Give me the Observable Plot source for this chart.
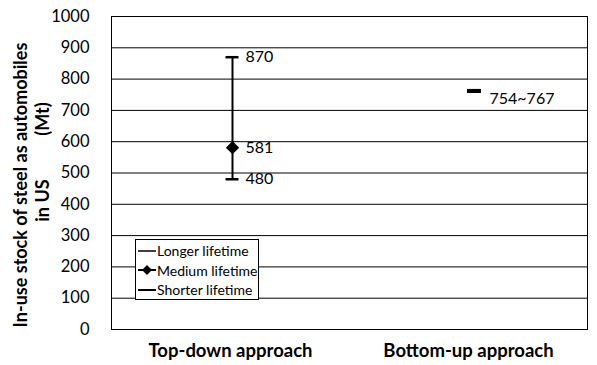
<!DOCTYPE html>
<html><head><meta charset="utf-8">
<script src="https://cdn.jsdelivr.net/npm/d3@7"></script>
<script src="https://cdn.jsdelivr.net/npm/@observablehq/plot@0.6"></script>
<style>
body{margin:0;background:#fff;font-family:Lato,"Open Sans",sans-serif;}
#wrap{position:relative;width:597px;height:365px;}
#legend{position:absolute;left:135px;top:239px;width:124px;height:61px;border:1px solid #000;background:#fff;font-size:14px;box-sizing:border-box;padding-top:1px;white-space:nowrap;}
#legend .row{display:flex;align-items:center;height:19.5px;white-space:nowrap;}
#legend svg{margin-left:2px;margin-right:1px;flex:none;}
.ytitle{position:absolute;font-weight:bold;font-size:18px;white-space:pre;transform:translate(-50%,-50%) rotate(-90deg);line-height:1;}
</style></head>
<body><div id="wrap"></div>
<script>
const categories = ["Top-down approach", "Bottom-up approach"];
const topDownLow = 480, topDownMid = 581, topDownHigh = 870;
const bottomUpLow = 754, bottomUpHigh = 767;
const yTicks = [0,100,200,300,400,500,600,700,800,900,1000];
const legendLabels = ["Longer lifetime", "Medium lifetime", "Shorter lifetime"];
const yTitle = ["In-use stock of steel as automobiles", "in US          (Mt)"];

const W = 597, H = 365, mL = 111, mR = 10, mT = 16, mB = 36;
const band = (W - mL - mR) / 2;
const capInset = (band - 13) / 2;
const barInset = (band - 14) / 2;

const errData = [{cat: categories[0], low: topDownLow, mid: topDownMid, high: topDownHigh}];
const rangeData = [{cat: categories[1], low: bottomUpLow, high: bottomUpHigh}];
const tdLabels = [topDownHigh, topDownMid, topDownLow].map(v => ({cat: categories[0], v, t: String(v)}));
const buLabels = [{cat: categories[1], v: bottomUpLow, t: bottomUpLow + "~" + bottomUpHigh}];

const chart = Plot.plot({
  width: W, height: H,
  marginLeft: mL, marginRight: mR, marginTop: mT, marginBottom: mB,
  style: {fontFamily: "Lato, 'Open Sans', sans-serif", fontSize: "16px", color: "#000", background: "#fff"},
  x: {type: "band", domain: categories, padding: 0, label: null},
  y: {domain: [0, 1000], label: null},
  marks: [
    Plot.gridY(yTicks, {stroke: "#000", strokeOpacity: 1, strokeWidth: 1}),
    Plot.frame({stroke: "#000", strokeWidth: 1}),
    Plot.axisY({ticks: yTicks, tickSize: 0, tickPadding: 22, fontSize: 16.5, label: null, tickFormat: d => String(d)}),
    Plot.axisX({tickSize: 0, tickPadding: 14, fontSize: 18.5, fontWeight: "bold", label: null}),
    Plot.ruleX(errData, {x: "cat", y1: "low", y2: "high", stroke: "#000", strokeWidth: 2, dx: 2}),
    Plot.tickY(errData, {x: "cat", y: "low", stroke: "#000", strokeWidth: 2.5, insetLeft: capInset + 2, insetRight: capInset - 2}),
    Plot.tickY(errData, {x: "cat", y: "high", stroke: "#000", strokeWidth: 2.5, insetLeft: capInset + 2, insetRight: capInset - 2}),
    Plot.dot(errData, {x: "cat", y: "mid", symbol: "diamond2", r: 6, fill: "#000", stroke: "none", dx: 2}),
    Plot.rectY(rangeData, {x: "cat", y1: "low", y2: "high", fill: "#000", insetLeft: barInset + 6, insetRight: barInset - 6}),
    Plot.text(tdLabels, {x: "cat", y: "v", text: "t", dx: 15, textAnchor: "start", fontSize: 16}),
    Plot.text(buLabels, {x: "cat", y: "v", text: "t", dx: 21, dy: 5, textAnchor: "start", fontSize: 16})
  ]
});
const wrap = document.getElementById("wrap");
wrap.appendChild(chart);

[[yTitle[0], 20, 185], [yTitle[1], 42, 162]].forEach(([t, x, y]) => {
  const d = document.createElement("div");
  d.className = "ytitle";
  d.textContent = t;
  d.style.left = x + "px";
  d.style.top = y + "px";
  wrap.appendChild(d);
});

const lg = document.createElement("div");
lg.id = "legend";
legendLabels.forEach((t, i) => {
  const row = document.createElement("div");
  row.className = "row";
  const sym = i === 1
    ? '<svg width="18" height="10"><line x1="0" y1="5" x2="18" y2="5" stroke="#000" stroke-width="2"/><path d="M9,0 L14,5 L9,10 L4,5Z" fill="#000"/></svg>'
    : '<svg width="18" height="10"><line x1="0" y1="5" x2="18" y2="5" stroke="#000" stroke-width="' + (i === 0 ? 1.5 : 2) + '"/></svg>';
  row.innerHTML = sym + "<span>" + t + "</span>";
  lg.appendChild(row);
});
wrap.appendChild(lg);
</script></body></html>
